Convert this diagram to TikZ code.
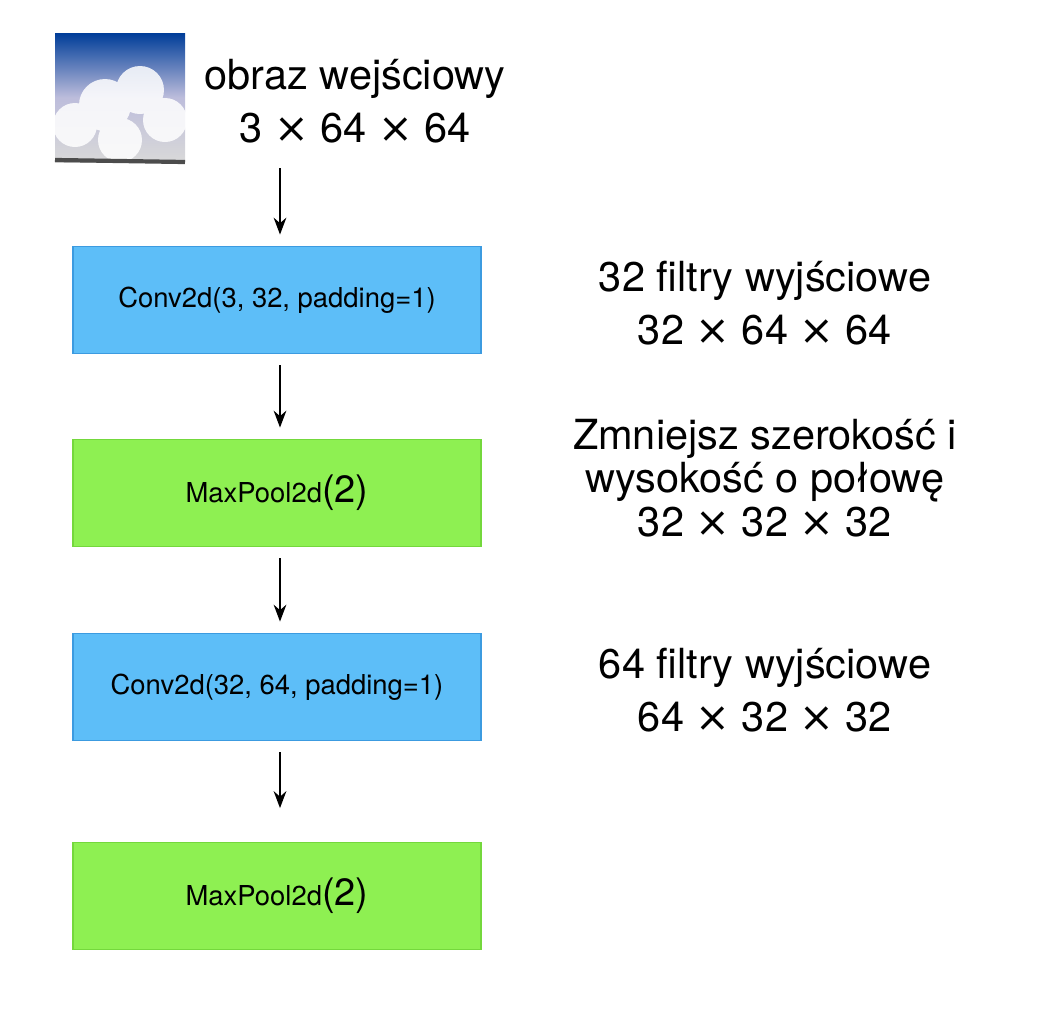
\documentclass[tikz,border=0pt]{standalone}
\usepackage{fontspec}
\setmainfont{TeX Gyre Heros}
\newfontfamily\symfont{DejaVu Sans}
\usetikzlibrary{positioning, arrows.meta}
\definecolor{convblue}{HTML}{5DBEF8}
\definecolor{convedge}{HTML}{3C9BE0}
\definecolor{poolgreen}{HTML}{8EF052}
\definecolor{pooledge}{HTML}{74D83C}
\newcommand{\by}{ {\symfont ×} }
\tikzset{
  layer/.style={draw, line width=0.8pt, minimum width=10.2cm, minimum height=2.68cm, font=\fontsize{19.5}{22}\selectfont},
  conv/.style={layer, fill=convblue, draw=convedge},
  pool/.style={layer, fill=poolgreen, draw=pooledge},
  info/.style={align=center, font=\fontsize{29.5}{38}\selectfont},
  flow/.style={-{Stealth[length=12pt, width=9pt]}, line width=1.4pt},
}
\begin{document}
\begin{tikzpicture}[x=0.025cm, y=-0.025cm]
  \useasboundingbox (0,0) rectangle (1054,1008);
  % input picture
  \shade[top color=blue!60!cyan!60!black, bottom color=gray!30, middle color=blue!30!gray!40] (55,33) rectangle (185,162);
  \fill[white, opacity=0.85] (75,125) circle (22) (105,105) circle (26) (140,90) circle (24) (165,120) circle (22) (120,140) circle (22);
  \draw[black!70, line width=3pt] (55,160) -- (185,162);
  \node[info] (img) at (355,101) {obraz wejściowy\\3\by64\by64};
  % layers
  \node[conv] (c1) at (277,300) {Conv2d(3, 32, padding=1)};
  \node[pool] (p1) at (277,493) {MaxPool2d{\fontsize{27}{27}\selectfont(2)}};
  \node[conv] (c2) at (277,687) {Conv2d(32, 64, padding=1)};
  \node[pool] (p2) at (277,896) {MaxPool2d{\fontsize{27}{27}\selectfont(2)}};
  \coordinate (top) at (280,168);
  \draw[flow] (top) -- ([yshift=8]c1.north -| top);
  \draw[flow, shorten <=8pt] (c1.south -| top) -- ([yshift=8]p1.north -| top);
  \draw[flow, shorten <=8pt] (p1.south -| top) -- ([yshift=8]c2.north -| top);
  \draw[flow, shorten <=8pt] (c2.south -| top) -- ([yshift=24]p2.north -| top);
  % notes
  \node[info] (n1) at (765,303) {32 filtry wyjściowe\\32\by64\by64};
  \node[info] (n2) at (765,478) {Zmniejsz szerokość i\\[-7pt]wysokość o połowę\\[-7pt]32\by32\by32};
  \node[info] (n3) at (765,690) {64 filtry wyjściowe\\64\by32\by32};
\end{tikzpicture}
\end{document}
